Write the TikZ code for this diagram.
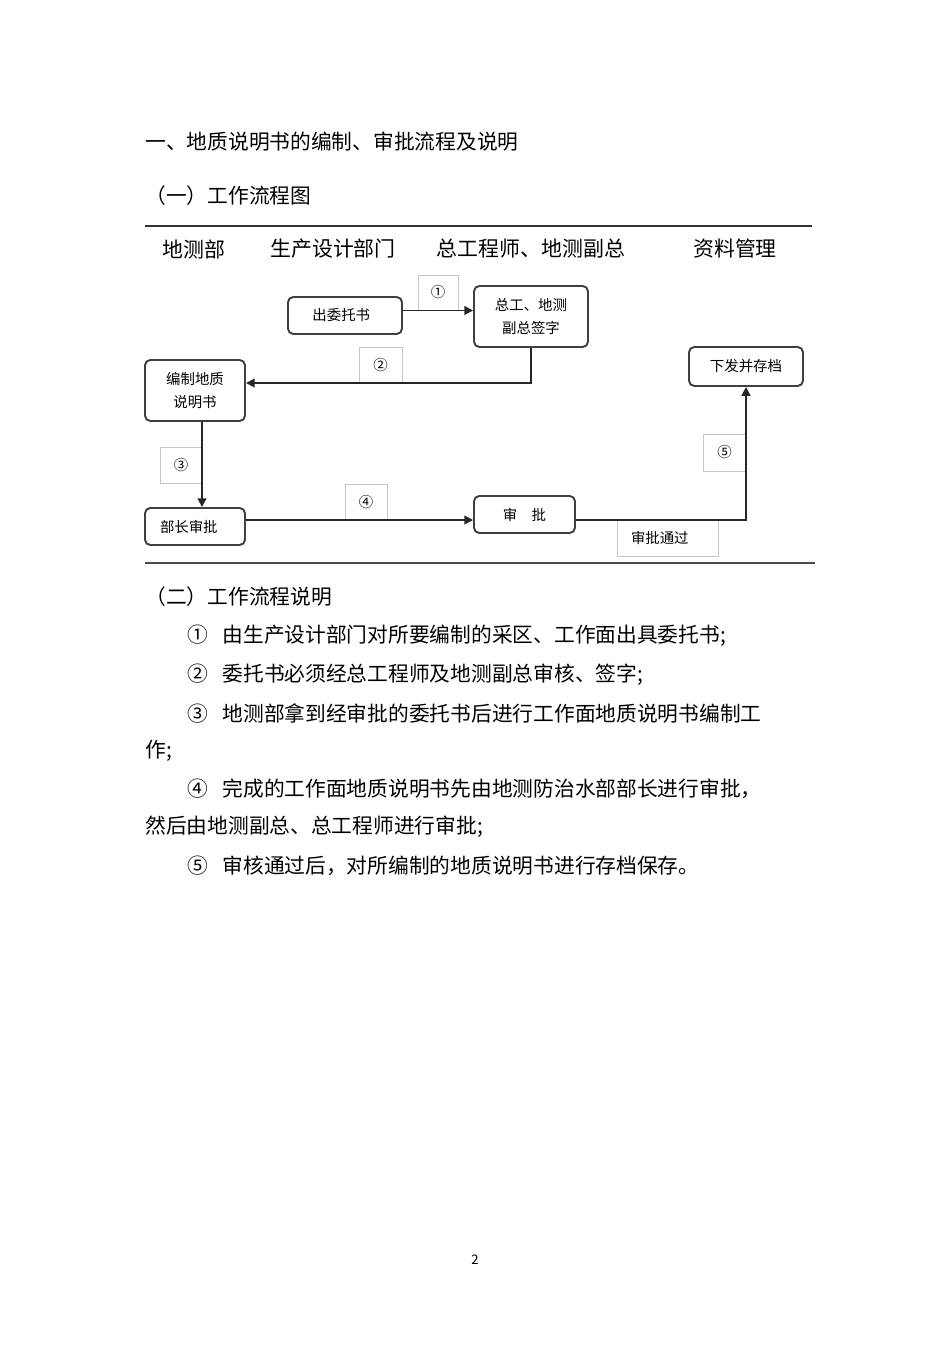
\documentclass[tikz,border=0pt]{standalone}
\usepackage{fontspec}
\setmainfont{Noto Sans CJK SC}
\usetikzlibrary{arrows.meta}

\tikzset{
  box/.style={draw=black!75, line width=1.1pt, rounded corners=3pt, fill=white,
    inner sep=0pt, align=center, font=\fontsize{8.2}{13.6}\selectfont},
  tag/.style={draw=black!22, line width=0.5pt, inner sep=0pt,
    font=\fontsize{8.2}{10}\selectfont},
  flow/.style={line width=1.1pt, black!85, -{Triangle[length=5pt,width=5pt]}},
  body/.style={anchor=west, inner sep=0pt, font=\fontsize{11.8}{14}\selectfont},
  head/.style={inner sep=0pt, font=\fontsize{11.9}{14}\selectfont},
}

\begin{document}
\begin{tikzpicture}[x=0.02cm, y=-0.02cm]
\useasboundingbox (0,0) rectangle (950,1345);

% headings
\node [body] (title) at (145,142) {一、地质说明书的编制、审批流程及说明};
\node [body] (sub1) at (145,196) {（一）工作流程图};

% rules and column heads
\draw [line width=0.8pt, black!80] (145,226) -- (812,226);
\draw [line width=0.8pt, black!70] (145,563) -- (815,563);
\node [head] (col1) at (194,249) {地测部};
\node [head] (col2) at (333,249) {生产设计部门};
\node [head] (col3) at (531,249) {总工程师、地测副总};
\node [head] (col4) at (735,249) {资料管理};

% step tags
\node [tag, minimum width=0.8cm, minimum height=0.7cm] (t1) at (438,292.5) {①};
\node [tag, minimum width=0.86cm, minimum height=0.72cm] (t2) at (380.5,365) {②};
\node [tag, minimum width=0.84cm, minimum height=0.72cm] (t3) at (181,465) {③};
\node [tag, minimum width=0.84cm, minimum height=0.72cm] (t4) at (366,502) {④};
\node [tag, minimum width=0.86cm, minimum height=0.74cm] (t5) at (724.5,452.5) {⑤};
\node [tag, minimum width=2.02cm, minimum height=0.72cm, text width=2.02cm,
  align=left] (tpass) at (667.5,538) {\hspace*{0.28cm}审批通过};

% steps
\node [box, minimum width=2.28cm, minimum height=0.74cm] (chu) at (345,315.5) {出委托书\hspace*{0.15cm}};
\node [box, minimum width=2.28cm, minimum height=1.22cm] (qian) at (531,316.5) {总工、地测\\副总签字};
\node [box, minimum width=2cm, minimum height=1.22cm] (bianzhi) at (195,390.5) {编制地质\\说明书};
\node [box, minimum width=2cm, minimum height=0.74cm, text width=1.4cm,
  align=left] (buzhang) at (195,526.5) {部长审批};
\node [box, minimum width=2.02cm, minimum height=0.74cm] (shenpi) at (524.5,514.5) {审\hspace{1em}批};
\node [box, minimum width=2.28cm, minimum height=0.78cm] (xiafa) at (746,366.5) {下发并存档};

% connectors
\draw [flow] ([yshift=0.1cm]chu.east) -- ([yshift=0.1cm]chu.east -| qian.west);
\draw [flow] (qian.south) |- ([yshift=0.15cm]bianzhi.east);
\draw [flow] ([xshift=0.14cm]bianzhi.south) -- ([xshift=0.14cm]bianzhi.south |- buzhang.north);
\draw [flow] ([yshift=0.13cm]buzhang.east) -- ([yshift=0.13cm]buzhang.east -| shenpi.west);
\draw [flow] ([yshift=-0.11cm]shenpi.east) -| (xiafa.south);

% notes
\node [body] (sub2) at (145,597) {（二）工作流程说明};
\node [body] (n1) at (187,636) {①\hspace{0.7em}由生产设计部门对所要编制的采区、工作面出具委托书;};
\node [body] (n2) at (187,675) {②\hspace{0.7em}委托书必须经总工程师及地测副总审核、签字;};
\node [body] (n3) at (187,713) {③\hspace{0.7em}地测部拿到经审批的委托书后进行工作面地质说明书编制工};
\node [body] (n3b) at (145,751) {作;};
\node [body] (n4) at (187,789) {④\hspace{0.7em}完成的工作面地质说明书先由地测防治水部部长进行审批，};
\node [body] (n4b) at (145,827) {然后由地测副总、总工程师进行审批;};
\node [body] (n5) at (187,866) {⑤\hspace{0.7em}审核通过后，对所编制的地质说明书进行存档保存。};

\node [inner sep=0pt, font=\fontsize{7.5}{9}\selectfont] (page) at (475,1260) {2};
\end{tikzpicture}
\end{document}
